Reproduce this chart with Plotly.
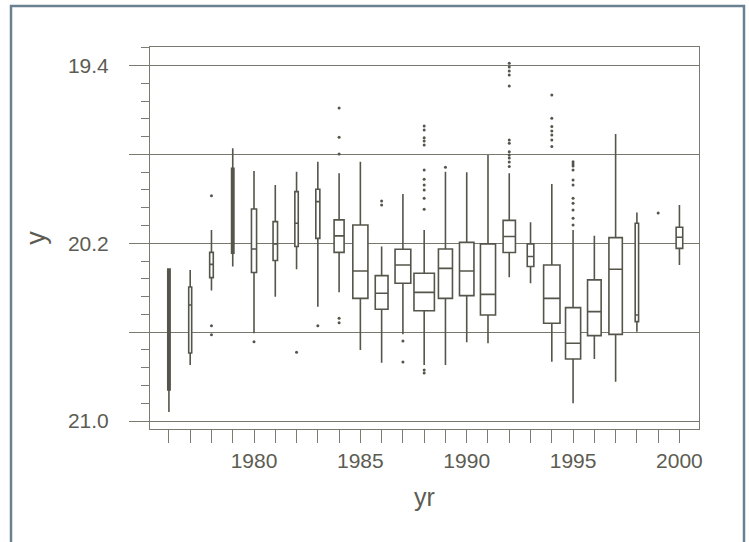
import plotly.graph_objects as go

# ---- data ----
years = [1976, 1977, 1978, 1979, 1980, 1981, 1982, 1983, 1984, 1985, 1986, 1987,
         1988, 1989, 1990, 1991, 1992, 1993, 1994, 1995, 1996, 1997, 1998, 2000]
lower_fence = [20.316, 20.320, 20.140, 19.773, 19.875, 19.938, 19.878, 19.833, 19.885, 19.833, 20.215, 19.978,
               20.140, 19.878, 19.881, 19.803, 19.885, 20.106, 19.933, 20.140, 20.166, 19.708, 20.062, 20.028]
q1 = [20.316, 20.397, 20.241, 19.863, 20.046, 20.103, 19.968, 19.957, 20.095, 20.118, 20.346, 20.227,
      20.335, 20.226, 20.196, 20.203, 20.097, 20.203, 20.298, 20.490, 20.365, 20.175, 20.110, 20.128]
median = [20.620, 20.478, 20.295, 20.050, 20.226, 20.203, 20.110, 20.013, 20.167, 20.325, 20.425, 20.298,
          20.421, 20.313, 20.325, 20.430, 20.170, 20.260, 20.448, 20.650, 20.508, 20.317, 20.523, 20.173]
q3 = [20.860, 20.694, 20.355, 20.245, 20.332, 20.278, 20.215, 20.178, 20.241, 20.448, 20.497, 20.380,
      20.504, 20.448, 20.436, 20.523, 20.242, 20.305, 20.560, 20.721, 20.616, 20.610, 20.553, 20.223]
upper_fence = [20.959, 20.748, 20.413, 20.305, 20.605, 20.441, 20.317, 20.486, 20.421, 20.680, 20.738, 20.610,
               20.748, 20.748, 20.646, 20.650, 20.353, 20.380, 20.733, 20.920, 20.721, 20.823, 20.598, 20.298]

outlier_yr = [1978, 1978, 1978,
              1980, 1982, 1983,
              1984, 1984, 1984, 1984, 1984,
              1986, 1986,
              1987, 1987,
              1988, 1988, 1988, 1988, 1988, 1988, 1988, 1988, 1988, 1988, 1988, 1988, 1988,
              1989,
              1992, 1992, 1992, 1992, 1992, 1992, 1992, 1992, 1992, 1992, 1992, 1992,
              1994, 1994, 1994, 1994, 1994, 1994, 1994,
              1995, 1995, 1995, 1995, 1995, 1995, 1995, 1995, 1995, 1995, 1995,
              1999]
outlier_y = [19.986, 20.571, 20.612,
             20.643, 20.691, 20.571,
             19.591, 19.723, 19.798, 20.538, 20.558,
             20.010, 20.028,
             20.640, 20.734,
             19.672, 19.690, 19.725, 19.740, 19.758, 19.870, 19.912, 19.938, 19.960, 19.998, 20.047, 20.770, 20.784,
             19.858,
             19.390, 19.407, 19.425, 19.443, 19.492, 19.735, 19.750, 19.788, 19.803, 19.816, 19.834, 19.855,
             19.533, 19.638, 19.675, 19.695, 19.713, 19.735, 19.765,
             19.833, 19.843, 19.852, 19.870, 19.915, 19.938, 19.998, 20.020, 20.050, 20.088, 20.118,
             20.064]

x_tick_years = list(range(1976, 2001))
x_tick_text = [str(y) if y % 5 == 0 else "" for y in x_tick_years]
y_tick_vals = [19.4, 19.8, 20.2, 20.6, 21.0]
y_tick_text = ["19.4", "", "20.2", "", "21.0"]

# ---- styling (box widths in years) ----
box_width_years = [0.11, 0.14, 0.17, 0.11, 0.24, 0.21, 0.16, 0.19, 0.47, 0.71, 0.60, 0.74,
                   0.96, 0.66, 0.68, 0.71, 0.58, 0.31, 0.77, 0.71, 0.64, 0.63, 0.16, 0.31]

LINE = "#55554b"
TEXT = "#5c5c53"
AXIS = "#7a7a70"
# the two densest early years print as solid dark bars in the reference
box_fill = [LINE if yr in (1976, 1979) else "white" for yr in years]

fig = go.Figure()
for i, yr in enumerate(years):
    fig.add_trace(go.Box(
        x=[yr], q1=[q1[i]], median=[median[i]], q3=[q3[i]],
        lowerfence=[lower_fence[i]], upperfence=[upper_fence[i]],
        width=box_width_years[i], whiskerwidth=0,
        fillcolor=box_fill[i], line=dict(color=LINE, width=1.6),
        boxpoints=False, showlegend=False, hoverinfo="skip",
    ))

fig.add_trace(go.Scatter(
    x=outlier_yr, y=outlier_y, mode="markers",
    marker=dict(size=3, color=LINE), showlegend=False, hoverinfo="skip",
))

L, R, T, B = 150, 50, 47, 113
W, H = 749, 542
pw, ph = W - L - R, H - T - B

fig.update_layout(
    width=W, height=H,
    margin=dict(l=L, r=R, t=T, b=B),
    paper_bgcolor="white", plot_bgcolor="white",
    boxmode="overlay", showlegend=False,
    font=dict(family="Liberation Sans, Arial, sans-serif", color=TEXT),
    shapes=[dict(
        type="rect", xref="paper", yref="paper", layer="below",
        x0=(11 - L) / pw, x1=(744 - L) / pw,
        y0=(H - B - 548) / ph, y1=(H - B - 6) / ph,
        line=dict(color="#6a8192", width=2.5), fillcolor="rgba(0,0,0,0)",
    )],
)

fig.update_xaxes(
    range=[1975.11, 2000.92], tickmode="array",
    tickvals=x_tick_years, ticktext=x_tick_text,
    ticks="outside", ticklen=13, tickcolor=AXIS, tickwidth=1,
    showline=True, linecolor=AXIS, linewidth=1, mirror=True,
    showgrid=False, zeroline=False,
    tickfont=dict(size=21, color=TEXT),
    title=dict(text="yr", font=dict(size=25, color=TEXT), standoff=17),
)

fig.update_yaxes(
    range=[21.036, 19.317], tickmode="array",
    tickvals=y_tick_vals, ticktext=y_tick_text,
    ticks="outside", ticklen=20, tickcolor=AXIS, tickwidth=1,
    ticklabelstandoff=16,
    showline=True, linecolor=AXIS, linewidth=1, mirror=True,
    showgrid=True, gridcolor="#77776d", gridwidth=1, zeroline=False,
    minor=dict(tickmode="linear", tick0=19.4, dtick=0.08, ticks="outside",
               ticklen=8, tickcolor=AXIS, showgrid=False),
    tickfont=dict(size=21, color=TEXT),
    title=dict(text="y", font=dict(size=27, color=TEXT), standoff=14),
)

fig.write_html("out.html", config={"displayModeBar": False},
               post_script="document.body.style.margin='0';")
